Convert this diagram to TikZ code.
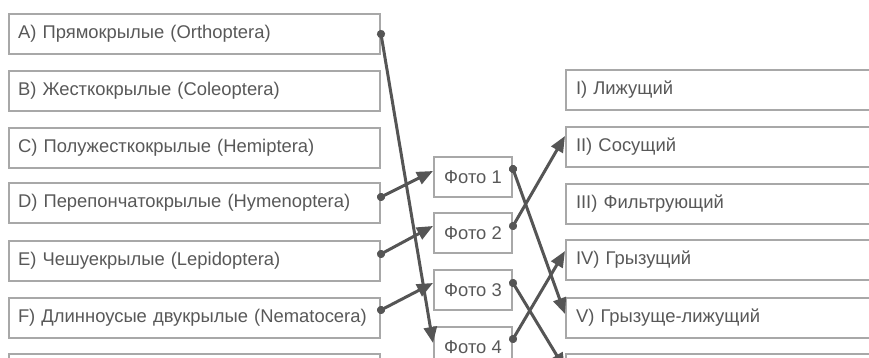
\documentclass[tikz,border=0pt]{standalone}
\usepackage{fontspec}
\setmainfont{Liberation Sans}
\usetikzlibrary{arrows.meta}
\definecolor{boxgray}{HTML}{A8A8A8}
\definecolor{txtgray}{HTML}{585858}
\definecolor{arrgray}{HTML}{555555}
\tikzset{
  order/.style={draw=boxgray, line width=2pt, anchor=north west, text=txtgray,
    text width=353pt, inner xsep=9pt, minimum height=40pt, align=left,
    font=\fontsize{18.4}{21}\selectfont},
  mouth/.style={order, text width=351pt, inner xsep=10pt},
  photo/.style={draw=boxgray, line width=2pt, anchor=north west, text=txtgray,
    minimum width=78pt, minimum height=40pt, inner sep=0pt,
    font=\fontsize{18.4}{21}\selectfont},
  link/.style={draw=arrgray, line width=3pt, shorten <=-4pt,
    {Circle[length=8pt]}-{Triangle[length=16pt,width=13pt]}}
}
\begin{document}
\begin{tikzpicture}[x=1pt,y=-1pt]
  \useasboundingbox (0,0) rectangle (869,358);
  \clip (0,0) rectangle (869,358);

    % insect orders
    \node[order] (ordA) at (8, 13){A) Прямокрылые (Orthoptera)};
    \node[order] (ordB) at (8, 70){B) Жесткокрылые (Coleoptera)};
    \node[order] (ordC) at (8, 127){C) Полужесткокрылые (Hemiptera)};
    \node[order] (ordD) at (8, 182){D) Перепончатокрылые (Hymenoptera)};
    \node[order] (ordE) at (8, 240){E) Чешуекрылые (Lepidoptera)};
    \node[order] (ordF) at (8, 297){F) Длинноусые двукрылые (Nematocera)};
    \node[order] (ordG) at (8, 353){};

    % photos
    \node[photo] (foto1) at (433, 156){Фото 1};
    \node[photo] (foto2) at (433, 212){Фото 2};
    \node[photo] (foto3) at (433, 269){Фото 3};
    \node[photo] (foto4) at (433, 326){Фото 4};

    % mouthparts
    \node[mouth] (mI) at (565, 69){I) Лижущий};
    \node[mouth] (mII) at (565, 126){II) Сосущий};
    \node[mouth] (mIII) at (565, 183){III) Фильтрующий};
    \node[mouth] (mIV) at (565, 239){IV) Грызущий};
    \node[mouth] (mV) at (565, 297){V) Грызуще-лижущий};
    \node[mouth] (mVI) at (565, 353){};

    \draw[link] (ordA.east) to ([yshift=4pt]foto4.west);
    \draw[link] ([yshift=6pt]ordD.east) to ([yshift=6pt]foto1.west);
    \draw[link] ([yshift=7pt]ordE.east) to ([yshift=7pt]foto2.west);
    \draw[link] ([yshift=8pt]ordF.east) to ([yshift=7pt]foto3.west);

    \draw[link] ([yshift=8pt]foto1.east) to ([yshift=4pt]mV.west);
    \draw[link] ([yshift=7pt]foto2.east) to ([yshift=11pt]mII.west);
    \draw[link] ([yshift=7pt]foto3.east) to ([yshift=5pt]mVI.west);
    \draw[link] ([yshift=8pt]foto4.east) to ([yshift=9pt]mIV.west);

  \end{tikzpicture}
\end{document}
